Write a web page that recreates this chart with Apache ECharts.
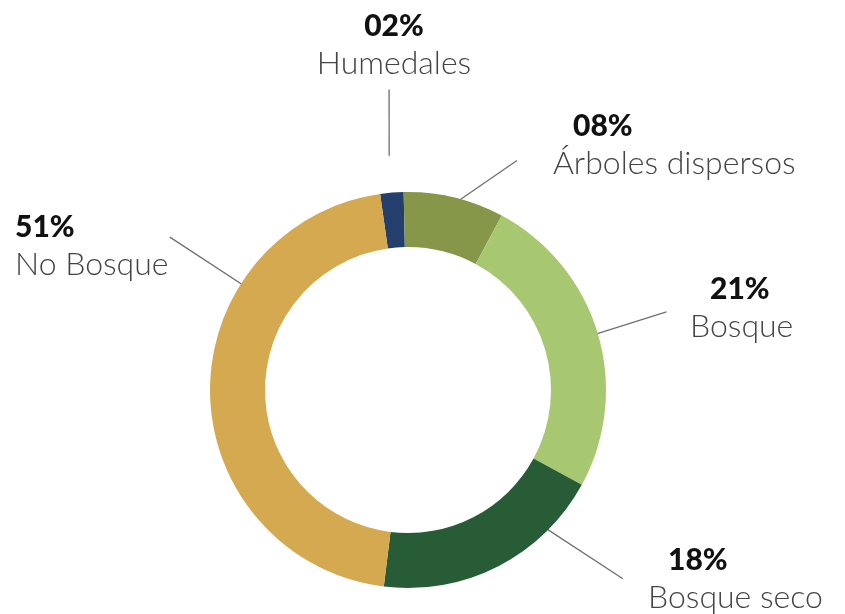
<!DOCTYPE html>
<html>
<head>
<meta charset="utf-8">
<script src="https://cdn.jsdelivr.net/npm/echarts@6/dist/echarts.min.js"></script>
<style>
  html, body { margin: 0; padding: 0; background: #fff; }
  #chart { width: 845px; height: 614px; }
</style>
</head>
<body>
<div id="chart"></div>
<script>
// categorias y valores (arcos, etiquetas tal como aparecen)
const categories = ['Humedales', 'Árboles dispersos', 'Bosque', 'Bosque seco', 'No Bosque'];
const values = [1.9, 8.2, 25.1, 19.0, 45.8];
const pctLabels = ['02%', '08%', '21%', '18%', '51%'];
const colors = ['#253f6d', '#86974a', '#a7c771', '#275c37', '#d4a94f'];

const chart = echarts.init(document.getElementById('chart'));

const cx = 408, cy = 390;
const pad = 12;
// donde va cada etiqueta: [x, y, align, sangria del %]
const spots = [
  [394, 7, 'center', false],
  [553, 107, 'left', true],
  [690, 270, 'left', true],
  [648, 541, 'left', true],
  [15, 208, 'left', false]
];
// lineas guia en polar (grados desde arriba, radio): inicio y fin
const guides = [
  [-4.6, 235, -3.6, 301],
  [13.4, 190, 25.4, 254],
  [73.5, 180, 73.2, 270],
  [135.7, 186, 131.3, 286],
  [302.4, 181, 302.7, 283]
];

function polar(deg, r) {
  const a = deg * Math.PI / 180;
  return [cx + r * Math.sin(a), cy - r * Math.cos(a)];
}

const data = categories.map((name, i) => ({
  name: name,
  value: values[i],
  itemStyle: { color: colors[i] }
}));

const option = {
  animation: false,
  series: [
    {
      type: 'pie',
      center: [cx, cy],
      radius: [143, 198],
      startAngle: 98.1,
      clockwise: true,
      avoidLabelOverlap: false,
      silent: true,
      data: data,
      label: {
        show: true,
        position: 'outside',
        padding: pad,
        formatter: function (p) {
          const tag = spots[p.dataIndex][3] ? 'pi' : 'p';
          return '{' + tag + '|' + pctLabels[p.dataIndex] + '}\n{n|' + p.name + '}';
        },
        rich: {
          p: {
            fontFamily: 'Lato',
            fontWeight: 900,
            fontSize: 30,
            color: '#111',
            lineHeight: 38
          },
          pi: {
            fontFamily: 'Lato',
            fontWeight: 900,
            fontSize: 30,
            color: '#111',
            lineHeight: 38,
            padding: [0, 0, 0, 20]
          },
          n: {
            fontFamily: 'Lato',
            fontWeight: 300,
            fontSize: 32,
            color: '#444',
            lineHeight: 38
          }
        }
      },
      labelLine: {
        show: true,
        length: 20,
        length2: 0,
        lineStyle: { color: '#6f6f6f', width: 1.3 }
      },
      labelLayout: function (params) {
        const i = params.dataIndex;
        const s = spots[i];
        const g = guides[i];
        return {
          x: s[2] === 'center' ? s[0] : s[0] - pad,
          y: s[1] - pad,
          align: s[2],
          verticalAlign: 'top',
          labelLinePoints: [polar(g[0], g[1]), polar(g[2], g[3])]
        };
      }
    }
  ]
};

chart.setOption(option);
</script>
</body>
</html>
